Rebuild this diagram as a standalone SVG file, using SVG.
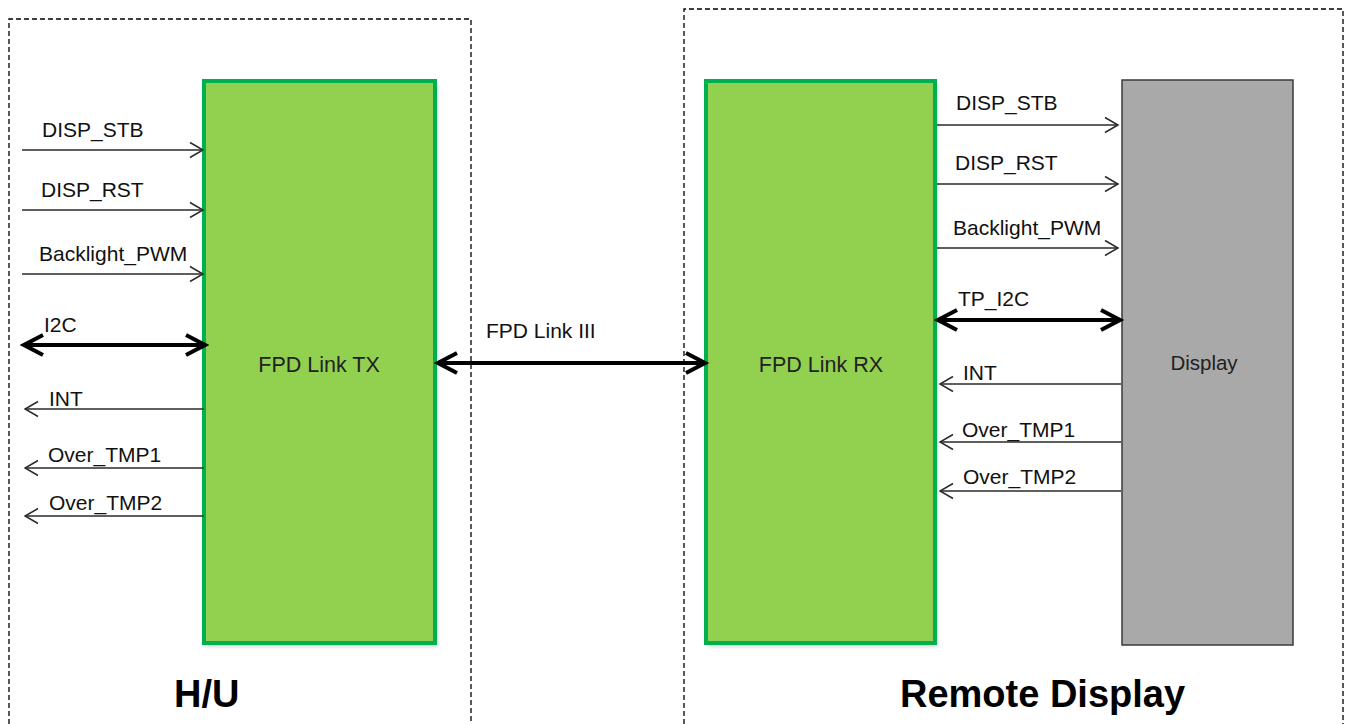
<svg xmlns="http://www.w3.org/2000/svg" width="1345" height="724" viewBox="0 0 1345 724">
<style>
.lbl{font-family:"Liberation Sans",Arial,sans-serif;font-size:21px;fill:#111}
.box{font-family:"Liberation Sans",Arial,sans-serif;font-size:21.5px;fill:#222;text-anchor:middle}
.ttl{font-family:"Liberation Sans",Arial,sans-serif;font-size:38px;font-weight:bold;fill:#000}
.dash{fill:none;stroke:#000;stroke-width:1.3;stroke-dasharray:5 3}
.thin{stroke:#2a2a2a;stroke-width:1.5;fill:none;marker-end:url(#ah)}
.thick{stroke:#000;stroke-width:4;fill:none;marker-start:url(#AH);marker-end:url(#AH)}
.green{fill:#92d050;stroke:#00b050;stroke-width:4}
</style>
<defs>
<marker id="ah" markerUnits="userSpaceOnUse" viewBox="0 0 16 18" markerWidth="16" markerHeight="18" refX="14.5" refY="9" orient="auto-start-reverse">
<path d="M1.5,1.5 L14.5,9 L1.5,16.5" fill="none" stroke="#2a2a2a" stroke-width="1.5"/>
</marker>
<marker id="AH" markerUnits="userSpaceOnUse" viewBox="0 0 26 28" markerWidth="26" markerHeight="28" refX="22" refY="14" orient="auto-start-reverse">
<path d="M3,4 L22,14 L3,24" fill="none" stroke="#000" stroke-width="4"/>
</marker>
<filter id="sh" x="-10%" y="-10%" width="130%" height="130%">
<feGaussianBlur stdDeviation="2"/>
</filter>
</defs>
<rect width="1345" height="724" fill="#fff"/>
<g id="hu-region">
<path class="dash" d="M9,724 V19 H471 V724"/>
<text class="ttl" x="174" y="707">H/U</text>
</g>
<g id="remote-region">
<path class="dash" d="M684,724 V9 H1343 V724"/>
<text class="ttl" x="900" y="707">Remote Display</text>
</g>
<g id="fpd-tx">
<rect x="206" y="84" width="231" height="562" fill="#000" opacity="0.25" filter="url(#sh)"/>
<rect class="green" x="204" y="81" width="231" height="562"/>
<text class="box" x="319" y="372">FPD Link TX</text>
</g>
<g id="fpd-rx">
<rect x="708" y="84" width="229" height="562" fill="#000" opacity="0.25" filter="url(#sh)"/>
<rect class="green" x="706" y="81" width="229" height="562"/>
<text class="box" x="821" y="372">FPD Link RX</text>
</g>
<g id="display">
<rect x="1122" y="80" width="171" height="565" fill="#a9a9a9" stroke="#3a3a3a" stroke-width="1.5"/>
<text class="box" x="1204" y="370" style="font-size:20.5px">Display</text>
</g>
<g id="connectors">
<line class="thin" x1="22" y1="150" x2="203" y2="150"/>
<line class="thin" x1="22" y1="210" x2="203" y2="210"/>
<line class="thin" x1="22" y1="274" x2="203" y2="274"/>
<line class="thick" x1="24" y1="345" x2="205" y2="345"/>
<line class="thin" x1="204" y1="409" x2="25" y2="409"/>
<line class="thin" x1="204" y1="468" x2="25" y2="468"/>
<line class="thin" x1="204" y1="516" x2="25" y2="516"/>
<line class="thick" x1="438" y1="363" x2="705" y2="363"/>
<line class="thin" x1="937" y1="125" x2="1118" y2="125"/>
<line class="thin" x1="937" y1="184" x2="1118" y2="184"/>
<line class="thin" x1="937" y1="248" x2="1118" y2="248"/>
<line class="thick" x1="938" y1="320" x2="1120" y2="320"/>
<line class="thin" x1="1121" y1="384" x2="940" y2="384"/>
<line class="thin" x1="1121" y1="442" x2="940" y2="442"/>
<line class="thin" x1="1121" y1="491" x2="940" y2="491"/>
</g>
<g id="labels">
<text class="lbl" x="42" y="137">DISP_STB</text>
<text class="lbl" x="41" y="197">DISP_RST</text>
<text class="lbl" x="39" y="261">Backlight_PWM</text>
<text class="lbl" x="44" y="332">I2C</text>
<text class="lbl" x="49" y="406">INT</text>
<text class="lbl" x="48" y="462">Over_TMP1</text>
<text class="lbl" x="49" y="510">Over_TMP2</text>
<text class="lbl" x="486" y="338">FPD Link III</text>
<text class="lbl" x="956" y="110">DISP_STB</text>
<text class="lbl" x="955" y="170">DISP_RST</text>
<text class="lbl" x="953" y="235">Backlight_PWM</text>
<text class="lbl" x="958" y="306">TP_I2C</text>
<text class="lbl" x="963" y="380">INT</text>
<text class="lbl" x="962" y="437">Over_TMP1</text>
<text class="lbl" x="963" y="484">Over_TMP2</text>
</g>
</svg>
